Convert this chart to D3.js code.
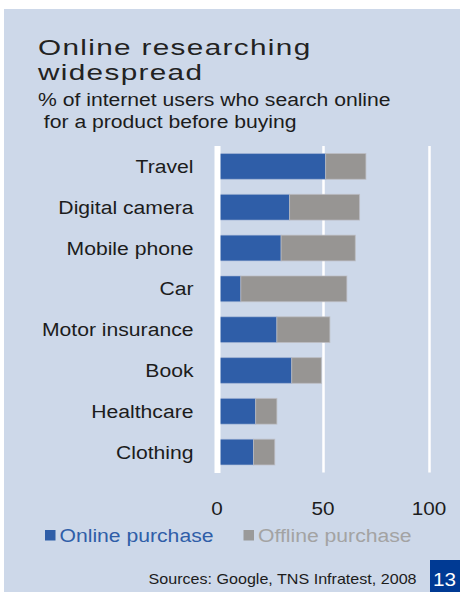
<!DOCTYPE html>
<html>
<head>
<meta charset="utf-8">
<script src="https://cdn.jsdelivr.net/npm/d3@7/dist/d3.min.js"></script>
<style>
  html, body { margin: 0; padding: 0; background: #ffffff; }
  svg { display: block; }
  text { font-family: "Liberation Sans", Arial, Helvetica, sans-serif; }
</style>
</head>
<body>
<svg id="chart" width="460" height="592"></svg>
<script>
// Share of internet users researching online before buying, by product
const categories = ["Travel", "Digital camera", "Mobile phone", "Car",
                    "Motor insurance", "Book", "Healthcare", "Clothing"];
const onlinePurchase  = [51, 34, 30, 11, 28, 35, 18, 17];
const offlinePurchase = [19, 33, 35, 50, 25, 14, 10, 10];
const tickValues = [0, 50, 100];
const seriesNames = ["Online purchase", "Offline purchase"];

const colors = {
  panel: "#cdd8e9",
  online: "#2f5ea8",
  offline: "#979593",
  text: "#1c1c1c",
  legendOnline: "#2f5ea8",
  legendOffline: "#a3a3a3",
  badge: "#003a94"
};

const SX = 1.15; // horizontal stretch applied to the typeface

const svg = d3.select("#chart");

// background panel
svg.append("rect")
  .attr("x", 4).attr("y", 9)
  .attr("width", 456).attr("height", 583)
  .attr("fill", colors.panel);

// helper: stretched text
function stretchedText(parent, x, y, str, opts) {
  const g = parent.append("g")
    .attr("transform", `translate(${x},${y}) scale(${opts.sx || SX},1)`);
  const t = g.append("text")
    .attr("x", 0).attr("y", 0)
    .attr("font-size", opts.size)
    .attr("fill", opts.fill || colors.text)
    .attr("text-anchor", opts.anchor || "start")
    .attr("letter-spacing", opts.spacing || 0)
    .style("white-space", "pre")
    .text(str);
  return t;
}

// title and subtitle
stretchedText(svg, 38, 55, "Online researching", {size: 22, sx: 1.35, spacing: 1, fill: "#222"});
stretchedText(svg, 38, 80, "widespread", {size: 22, sx: 1.35, spacing: 1, fill: "#222"});
stretchedText(svg, 38, 105.7, "% of internet users who search online", {size: 18.4});
stretchedText(svg, 38, 127.7, " for a product before buying", {size: 18.4});

// scales
const x = d3.scaleLinear().domain([0, 100]).range([217.5, 429.5]);
const y = d3.scaleBand().domain(categories).range([146, 472.5])
  .paddingInner(0.37).paddingOuter(0.185);

const rows = categories.map((c, i) => ({
  cat: c, online: onlinePurchase[i], offline: offlinePurchase[i]
}));

// gridlines at 50 and 100
svg.append("g").selectAll("line")
  .data(tickValues.filter(d => d !== 0))
  .join("line")
  .attr("x1", d => x(d)).attr("x2", d => x(d))
  .attr("y1", 146).attr("y2", 472.5)
  .attr("stroke", "#ffffff")
  .attr("stroke-width", 2.5);

// stacked bars
const bars = svg.append("g");
bars.selectAll("rect.online")
  .data(rows)
  .join("rect")
  .attr("class", "online")
  .attr("x", x(0))
  .attr("y", d => y(d.cat))
  .attr("width", d => x(d.online) - x(0))
  .attr("height", y.bandwidth())
  .attr("fill", colors.online)
  .attr("stroke", "rgba(170,185,215,0.55)")
  .attr("stroke-width", 1);

bars.selectAll("rect.offline")
  .data(rows)
  .join("rect")
  .attr("class", "offline")
  .attr("x", d => x(d.online))
  .attr("y", d => y(d.cat))
  .attr("width", d => x(d.online + d.offline) - x(d.online))
  .attr("height", y.bandwidth())
  .attr("fill", colors.offline)
  .attr("stroke", "rgba(190,190,195,0.7)")
  .attr("stroke-width", 1);

// zero baseline
svg.append("line")
  .attr("x1", x(0)).attr("x2", x(0))
  .attr("y1", 146).attr("y2", 473)
  .attr("stroke", "#ffffff")
  .attr("stroke-width", 6);

// category labels
const catG = svg.append("g");
rows.forEach(d => {
  stretchedText(catG, 193.5, y(d.cat) + y.bandwidth() / 2 + 6.5, d.cat,
    {size: 18.4, anchor: "end"});
});

// tick labels
const tickG = svg.append("g");
tickValues.forEach(v => {
  stretchedText(tickG, x(v) - 0.5, 515, String(v), {size: 18, anchor: "middle"});
});

// legend
const legend = svg.append("g");
const legendItems = [
  {name: seriesNames[0], x: 45, fill: colors.online, textFill: colors.legendOnline},
  {name: seriesNames[1], x: 243.5, fill: "#9a9a9a", textFill: colors.legendOffline}
];
legendItems.forEach(it => {
  legend.append("rect")
    .attr("x", it.x).attr("y", 530)
    .attr("width", 10.5).attr("height", 10.5)
    .attr("fill", it.fill);
  stretchedText(legend, it.x + 14.5, 541.7, it.name, {size: 18.4, fill: it.textFill});
});

// source note
stretchedText(svg, 148.5, 584, "Sources: Google, TNS Infratest, 2008", {size: 14, fill: "#1c1c1c"});

// page number badge
svg.append("rect")
  .attr("x", 430).attr("y", 560)
  .attr("width", 30).attr("height", 32)
  .attr("fill", colors.badge);
stretchedText(svg, 444.5, 586, "13", {size: 18, anchor: "middle", fill: "#ffffff"});
</script>
</body>
</html>
